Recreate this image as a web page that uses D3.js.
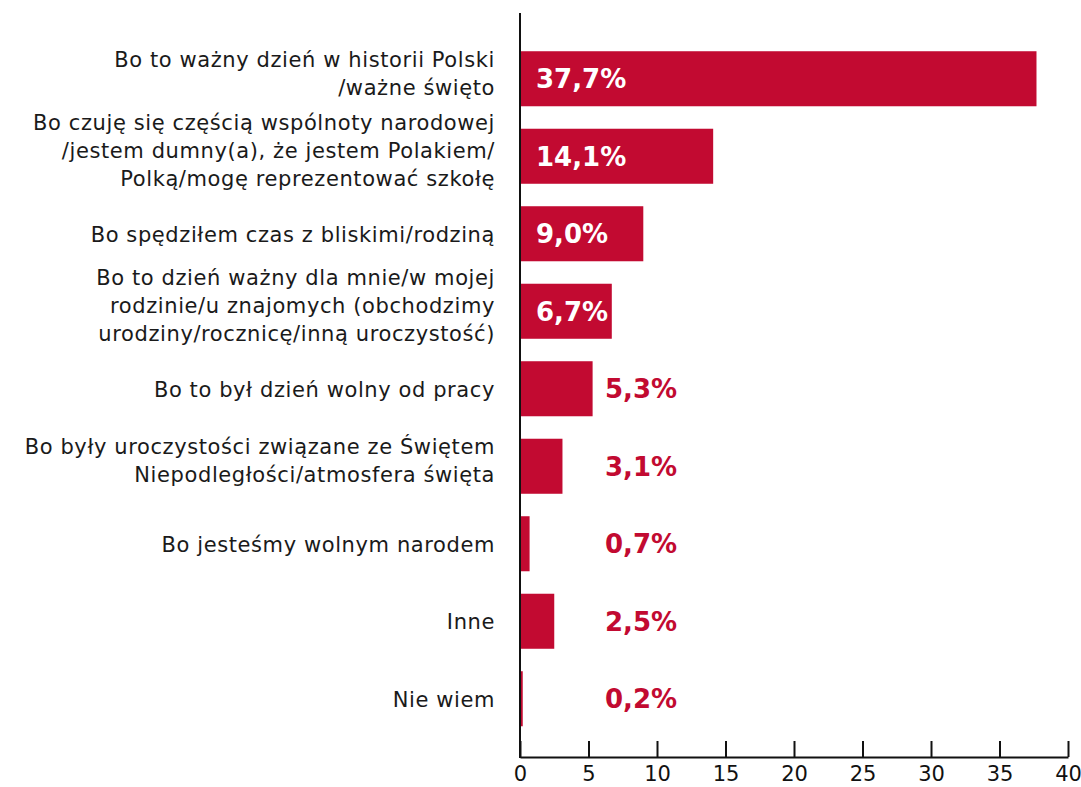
<!DOCTYPE html>
<html>
<head>
<meta charset="utf-8">
<script src="https://cdn.jsdelivr.net/npm/d3@7"></script>
<style>
  body { margin: 0; background: #fff; }
  svg { display: block; }
  .cat-label { font-family: "DejaVu Sans", sans-serif; font-size: 21px; letter-spacing: 0.6px; fill: #1a1a1a; }
  .val-label { font-family: "DejaVu Sans", sans-serif; font-weight: bold; font-size: 26px; }
  .x-axis text { font-family: "DejaVu Sans", sans-serif; font-size: 21px; fill: #111; }
</style>
</head>
<body>
<div class="chart"></div>
<script>
// category labels, one array entry per line
const categories = [
  ["Bo to ważny dzień w historii Polski", "/ważne święto"],
  ["Bo czuję się częścią wspólnoty narodowej", "/jestem dumny(a), że jestem Polakiem/", "Polką/mogę reprezentować szkołę"],
  ["Bo spędziłem czas z bliskimi/rodziną"],
  ["Bo to dzień ważny dla mnie/w mojej", "rodzinie/u znajomych (obchodzimy", "urodziny/rocznicę/inną uroczystość)"],
  ["Bo to był dzień wolny od pracy"],
  ["Bo były uroczystości związane ze Świętem", "Niepodległości/atmosfera święta"],
  ["Bo jesteśmy wolnym narodem"],
  ["Inne"],
  ["Nie wiem"]
];
const values = [37.7, 14.1, 9.0, 6.7, 5.3, 3.1, 0.7, 2.5, 0.2];
const xTicks = [0, 5, 10, 15, 20, 25, 30, 35, 40];

const width = 1081, height = 787;
const barColor = "#c20a31";

const svg = d3.select(".chart")
  .append("svg")
  .attr("width", width)
  .attr("height", height);

const x = d3.scaleLinear().domain([0, 40]).range([520, 1068]);
const y = d3.scaleBand()
  .domain(d3.range(categories.length))
  .range([40, 737.5])
  .paddingInner(0.29)
  .paddingOuter(0.145);

// bars
svg.append("g").selectAll("rect")
  .data(values)
  .join("rect")
  .attr("x", x(0))
  .attr("y", (d, i) => y(i))
  .attr("width", d => x(d) - x(0))
  .attr("height", y.bandwidth())
  .attr("fill", barColor);

// value labels: inside (white) for big bars, outside (red) for small ones
svg.append("g").selectAll("text")
  .data(values)
  .join("text")
  .attr("class", "val-label")
  .attr("x", d => d >= 6 ? x(0) + 16 : 605)
  .attr("y", (d, i) => y(i) + y.bandwidth() / 2)
  .attr("dy", "0.36em")
  .attr("fill", d => d >= 6 ? "#fff" : barColor)
  .text(d => d.toFixed(1).replace(".", ",") + "%");

// category labels (multi-line ones sit a little higher, as in the original)
const lineH = 28;
const labels = svg.append("g").selectAll("text")
  .data(categories)
  .join("text")
  .attr("class", "cat-label")
  .attr("text-anchor", "end")
  .attr("y", (d, i) => y(i) + y.bandwidth() / 2 - (d.length - 1) * lineH / 2 + (d.length > 1 ? 2 : 8));
labels.selectAll("tspan")
  .data(d => d)
  .join("tspan")
  .attr("x", 495)
  .attr("dy", (d, i) => i === 0 ? 0 : lineH)
  .text(d => d);

// vertical axis line
svg.append("line")
  .attr("x1", x(0)).attr("x2", x(0))
  .attr("y1", 13).attr("y2", 758)
  .attr("stroke", "#111")
  .attr("stroke-width", 2);

// bottom axis with ticks pointing up
const xAxis = svg.append("g")
  .attr("class", "x-axis")
  .attr("transform", "translate(0,757)")
  .call(d3.axisBottom(x).tickValues(xTicks).tickSize(0).tickPadding(9));
xAxis.select(".domain").attr("stroke", "#111").attr("stroke-width", 2);
xAxis.selectAll(".tick line")
  .attr("y2", -16)
  .attr("stroke", "#111")
  .attr("stroke-width", 2);
xAxis.selectAll(".tick text").attr("dy", "0.71em");
</script>
</body>
</html>
